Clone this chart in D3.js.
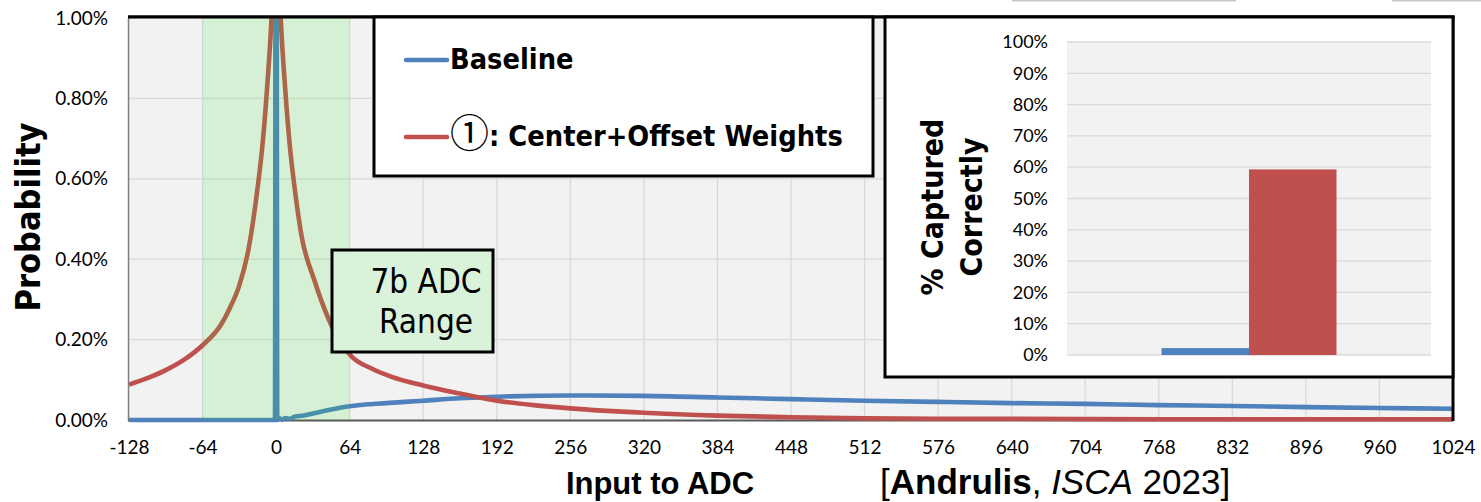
<!DOCTYPE html>
<html>
<head>
<meta charset="utf-8">
<script src="https://cdn.jsdelivr.net/npm/d3@7/dist/d3.min.js"></script>
<style>
  html, body { margin: 0; padding: 0; background: #fff; }
  svg { display: block; }
</style>
</head>
<body>
<svg id="chart" width="1481" height="502"></svg>
<script>
// ---- Data -------------------------------------------------------------
// Distribution of ADC inputs (probability in %)
const baselineX = [-128, -64, -1, 0, 1, 3, 5, 8, 12, 16, 24, 32, 48, 64, 80, 96, 112, 128, 160, 192, 256, 320, 384, 448, 512, 576, 640, 704, 768, 832, 896, 960, 1024];
const baselineY = [0, 0, 0, 3.0, 0, 0.004, 0.001, 0.005, 0.003, 0.008, 0.011, 0.016, 0.026, 0.034, 0.039, 0.042, 0.045, 0.048, 0.054, 0.058, 0.061, 0.060, 0.056, 0.052, 0.048, 0.045, 0.042, 0.040, 0.037, 0.035, 0.032, 0.030, 0.028];

const offsetX = [-128, -112, -96, -80, -64, -48, -40, -32, -24, -16, -12, -8, -4, 0, 4, 8, 12, 16, 22, 33, 40, 50, 65, 83, 100, 128, 160, 192, 224, 256, 320, 384, 448, 512, 576, 640, 768, 896, 1024];
const offsetY = [0.088, 0.104, 0.124, 0.150, 0.186, 0.237, 0.280, 0.335, 0.425, 0.580, 0.680, 0.820, 1.0, 1.30, 1.0, 0.820, 0.680, 0.580, 0.460, 0.350, 0.292, 0.224, 0.160, 0.128, 0.108, 0.086, 0.066, 0.048, 0.037, 0.029, 0.018, 0.011, 0.007, 0.004, 0.003, 0.003, 0.002, 0.002, 0.002];

const seriesMarks = ["", "\u2460"];
const seriesNames = ["Baseline", ": Center+Offset Weights"];
const seriesColors = ["#4f81bd", "#c0504d"];

const xTicks = [-128, -64, 0, 64, 128, 192, 256, 320, 384, 448, 512, 576, 640, 704, 768, 832, 896, 960, 1024];
const yTicks = [0, 0.2, 0.4, 0.6, 0.8, 1.0];
const adcRange = [-64, 64];

// Inset: share of values captured correctly by the 7b ADC
const insetCategory = ["captured"];
const insetValues = [2.2, 59.3];
const insetTicks = [0, 10, 20, 30, 40, 50, 60, 70, 80, 90, 100];

// ---- Layout -----------------------------------------------------------
const svg = d3.select("#chart");
const tickFont = "Lato, 'DejaVu Sans', sans-serif";
const titleFont = "'DejaVu Sans Condensed', 'DejaVu Sans', sans-serif";
const arialFont = "'Liberation Sans', Arial, sans-serif";

const P = { left: 129, right: 1453, top: 18, bottom: 420 };
const x = d3.scaleLinear().domain([-128, 1024]).range([P.left, P.right]);
const y = d3.scaleLinear().domain([0, 1]).range([P.bottom, P.top]);

// faint rules along the very top edge
svg.append("line").attr("x1", 1012).attr("x2", 1236).attr("y1", 0.5).attr("y2", 0.5)
  .attr("stroke", "#c8c8c8").attr("stroke-width", 2);
svg.append("line").attr("x1", 1392).attr("x2", 1481).attr("y1", 0.5).attr("y2", 0.5)
  .attr("stroke", "#c8c8c8").attr("stroke-width", 2);

// plot background
svg.append("rect")
  .attr("x", P.left).attr("y", P.top)
  .attr("width", P.right - P.left).attr("height", P.bottom - P.top)
  .attr("fill", "#f2f2f2");

// gridlines
svg.append("g").selectAll("line").data(xTicks.slice(1)).join("line")
  .attr("x1", d => x(d)).attr("x2", d => x(d))
  .attr("y1", P.top).attr("y2", P.bottom)
  .attr("stroke", "#d9d9d9").attr("stroke-width", 1.3);
svg.append("g").selectAll("line").data(yTicks.slice(1)).join("line")
  .attr("x1", P.left).attr("x2", P.right)
  .attr("y1", d => y(d)).attr("y2", d => y(d))
  .attr("stroke", "#d9d9d9").attr("stroke-width", 1.3);

// axes
const xAxis = svg.append("g")
  .attr("transform", `translate(0,${P.bottom})`)
  .call(d3.axisBottom(x).tickValues(xTicks).tickSize(0).tickPadding(21).tickFormat(d => String(d)));
xAxis.select(".domain").remove();
xAxis.selectAll("text").attr("font-family", tickFont).attr("font-size", 19).attr("fill", "#000");

const yAxis = svg.append("g")
  .attr("transform", `translate(${P.left},0)`)
  .call(d3.axisLeft(y).tickValues(yTicks).tickSize(0).tickPadding(21).tickFormat(d => d.toFixed(2) + "%"));
yAxis.select(".domain").remove();
yAxis.selectAll("text").attr("font-family", tickFont).attr("font-size", 19).attr("fill", "#000");

// axis lines
svg.append("line").attr("x1", P.left - 0.5).attr("x2", P.left - 0.5).attr("y1", P.top).attr("y2", P.bottom + 1)
  .attr("stroke", "#7f7f7f").attr("stroke-width", 1.5);
svg.append("line").attr("x1", P.left - 1).attr("x2", P.right).attr("y1", P.bottom + 0.5).attr("y2", P.bottom + 0.5)
  .attr("stroke", "#595959").attr("stroke-width", 2);

// data lines
svg.append("clipPath").attr("id", "plotClip").append("rect")
  .attr("x", P.left).attr("y", P.top)
  .attr("width", P.right - P.left).attr("height", P.bottom - P.top + 3);

const line = d3.line().x(d => x(d[0])).y(d => y(d[1])).curve(d3.curveMonotoneX);
const lines = svg.append("g").attr("clip-path", "url(#plotClip)");
lines.append("path")
  .attr("d", line(d3.zip(baselineX, baselineY)))
  .attr("fill", "none").attr("stroke", seriesColors[0]).attr("stroke-width", 4.6)
  .attr("stroke-linejoin", "round");
lines.append("path")
  .attr("d", line(d3.zip(offsetX, offsetY)))
  .attr("fill", "none").attr("stroke", seriesColors[1]).attr("stroke-width", 4.6)
  .attr("stroke-linejoin", "round");

// translucent band marking the 7b ADC range
svg.append("rect")
  .attr("x", x(adcRange[0])).attr("y", P.top)
  .attr("width", x(adcRange[1]) - x(adcRange[0])).attr("height", P.bottom - P.top)
  .attr("fill", "rgb(50,235,50)").attr("fill-opacity", 0.14);

// top / right frame
svg.append("line").attr("x1", P.left - 1).attr("x2", P.right + 1.5).attr("y1", 16.8).attr("y2", 16.8)
  .attr("stroke", "#000").attr("stroke-width", 3.2);
svg.append("line").attr("x1", P.right).attr("x2", P.right).attr("y1", 16).attr("y2", P.bottom + 1)
  .attr("stroke", "#000").attr("stroke-width", 3);

// y title
svg.append("text")
  .attr("transform", "translate(40,217) rotate(-90)")
  .attr("text-anchor", "middle")
  .attr("font-family", titleFont).attr("font-weight", "bold").attr("font-size", 34)
  .text("Probability");

// x title and citation
svg.append("text")
  .attr("x", 660).attr("y", 494).attr("text-anchor", "middle")
  .attr("font-family", arialFont).attr("font-weight", "bold").attr("font-size", 31)
  .text("Input to ADC");
const cite = svg.append("text").attr("x", 880).attr("y", 494)
  .attr("font-family", arialFont).attr("font-size", 35);
cite.append("tspan").text("[");
cite.append("tspan").attr("font-weight", "bold").text("Andrulis");
cite.append("tspan").text(", ");
cite.append("tspan").attr("font-style", "italic").text("ISCA");
cite.append("tspan").text(" 2023]");

// ADC range label
svg.append("rect").attr("x", 332).attr("y", 250).attr("width", 161).attr("height", 102)
  .attr("fill", "#d9f2d9").attr("stroke", "#000").attr("stroke-width", 3);
svg.append("text").attr("x", 426).attr("y", 293).attr("text-anchor", "middle")
  .attr("font-family", titleFont).attr("font-size", 33).text("7b ADC");
svg.append("text").attr("x", 426).attr("y", 333).attr("text-anchor", "middle")
  .attr("font-family", titleFont).attr("font-size", 33).text("Range");

// legend
svg.append("rect").attr("x", 374).attr("y", 17).attr("width", 499).attr("height", 159)
  .attr("fill", "#fff").attr("stroke", "#000").attr("stroke-width", 3);
const legendRows = [60, 137];
const legend = svg.append("g").selectAll("g").data(seriesNames).join("g")
  .attr("transform", (d, i) => `translate(0,${legendRows[i]})`);
legend.append("line").attr("x1", 406).attr("x2", 447).attr("y1", 0).attr("y2", 0)
  .attr("stroke", (d, i) => seriesColors[i]).attr("stroke-width", 4.5).attr("stroke-linecap", "round");
const legendText = legend.append("text").attr("x", 450).attr("y", 9)
  .attr("font-family", titleFont).attr("font-weight", "bold").attr("font-size", 28.7);
legendText.append("tspan")
  .attr("font-family", "'Noto Sans CJK JP', 'DejaVu Sans', sans-serif")
  .attr("font-weight", "normal").attr("font-size", 39)
  .attr("dy", 1)
  .text((d, i) => seriesMarks[i]);
legendText.append("tspan").attr("dy", (d, i) => seriesMarks[i] ? -1 : 0).text(d => d);

// ---- Inset bar chart --------------------------------------------------
svg.append("rect").attr("x", 885).attr("y", 17).attr("width", 568).attr("height", 360)
  .attr("fill", "#fff").attr("stroke", "#000").attr("stroke-width", 3);

const I = { left: 1067, right: 1431, top: 42, bottom: 355 };
const iy = d3.scaleLinear().domain([0, 100]).range([I.bottom, I.top]);
const ix = d3.scaleBand().domain(insetCategory).range([I.left, I.right]).paddingOuter(0.54).paddingInner(0);
const ixs = d3.scaleBand().domain(seriesNames).range([0, ix.bandwidth()]);

svg.append("rect").attr("x", I.left).attr("y", I.top)
  .attr("width", I.right - I.left).attr("height", I.bottom - I.top).attr("fill", "#f2f2f2");
svg.append("g").selectAll("line").data(insetTicks).join("line")
  .attr("x1", I.left).attr("x2", I.right)
  .attr("y1", d => iy(d)).attr("y2", d => iy(d))
  .attr("stroke", "#d9d9d9").attr("stroke-width", 1.3);

const iAxis = svg.append("g").attr("transform", `translate(${I.left},0)`)
  .call(d3.axisLeft(iy).tickValues(insetTicks).tickSize(0).tickPadding(19).tickFormat(d => d + "%"));
iAxis.select(".domain").remove();
iAxis.selectAll("text").attr("font-family", tickFont).attr("font-size", 18).attr("fill", "#000");

svg.append("g").selectAll("rect").data(insetValues).join("rect")
  .attr("x", (d, i) => ix(insetCategory[0]) + ixs(seriesNames[i]))
  .attr("width", ixs.bandwidth())
  .attr("y", d => iy(d))
  .attr("height", d => iy(0) - iy(d))
  .attr("fill", (d, i) => seriesColors[i]);

const iTitle = svg.append("text")
  .attr("transform", "translate(0,207) rotate(-90)")
  .attr("text-anchor", "middle")
  .attr("font-family", titleFont).attr("font-weight", "bold").attr("font-size", 30);
iTitle.append("tspan").attr("x", 0).attr("y", 943).text("% Captured");
iTitle.append("tspan").attr("x", 0).attr("y", 982).text("Correctly");
</script>
</body>
</html>
